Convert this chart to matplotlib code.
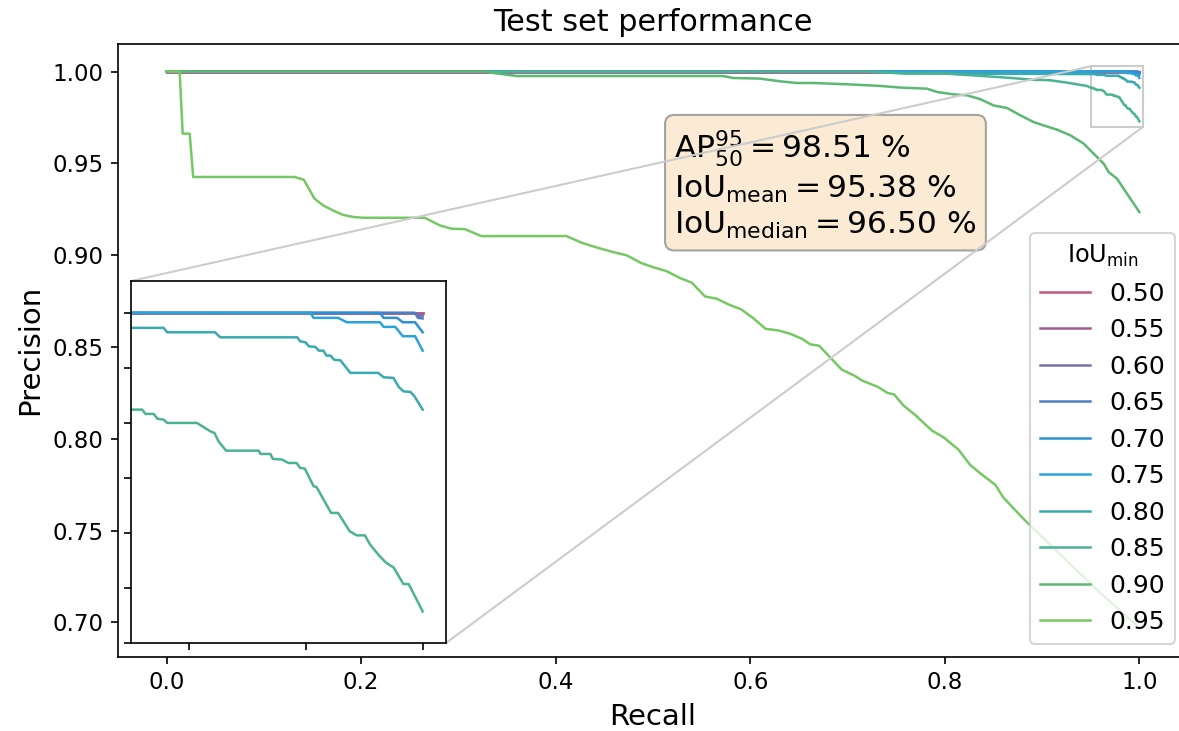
import matplotlib
matplotlib.use("Agg")
import matplotlib.pyplot as plt
from mpl_toolkits.axes_grid1.inset_locator import mark_inset

# ── Data ──────────────────────────────────────────────────────────────────────
iou_levels = ["0.50", "0.55", "0.60", "0.65", "0.70", "0.75", "0.80", "0.85", "0.90", "0.95"]
colors = ["#c2577c", "#a35b90", "#7d70a7", "#4d7ec1", "#2e90d4", "#2ba3d8",
          "#38aab0", "#4bb394", "#5cb873", "#76c865"]

rec_050 = [0.0, 1.0]
prec_050 = [1.0, 1.0]
rec_055 = [0.0, 1.0]
prec_055 = [1.0, 1.0]
rec_060 = [0.0, 0.9985, 0.9992, 1.0]
prec_060 = [1.0, 1.0, 0.99975, 0.99975]
rec_065 = [0.0, 0.9987, 0.9992, 1.0]
prec_065 = [1.0, 1.0, 0.99955, 0.9995]
rec_070 = [0.0, 0.9927, 0.9933, 0.9956, 0.9966, 0.9987, 1.0]
prec_070 = [1.0, 1.0, 0.99955, 0.99955, 0.99915, 0.99915, 0.99824]
rec_075 = [0.0, 0.9808, 0.9813, 0.9855, 0.987, 0.9927, 0.9933, 0.9953, 0.9966, 0.9987, 1.0]
prec_075 = [1.0, 1.0, 0.99955, 0.99955, 0.99915, 0.99915, 0.99873, 0.99873, 0.99788, 0.99788, 0.99657]
rec_080 = [0.0, 0.72, 0.76, 0.9501, 0.9556, 0.9562, 0.9644, 0.9653, 0.9785, 0.979, 0.9799,
           0.9805, 0.9816, 0.9822, 0.983, 0.9835, 0.9842, 0.9848, 0.9859, 0.9876, 0.9924,
           0.9933, 0.995, 0.9959, 0.9967, 0.9979, 0.9986, 1.0]
prec_080 = [1.0, 1.0, 0.9990, 0.99864, 0.99864, 0.99824, 0.99824, 0.99778, 0.99778, 0.99742, 0.99733,
            0.99696, 0.99691, 0.99657, 0.99657, 0.99612, 0.99612, 0.99575, 0.99569, 0.99455, 0.99455,
            0.99415, 0.99409, 0.99327, 0.99287, 0.99282, 0.99242, 0.99121]
rec_085 = [0.0, 0.72, 0.76, 0.80, 0.8536, 0.891, 0.908, 0.9256, 0.946, 0.9501, 0.9519, 0.9525,
           0.9539, 0.9545, 0.9556, 0.9562, 0.9613, 0.9636, 0.9643, 0.965, 0.9663, 0.9719, 0.9722,
           0.9739, 0.9743, 0.9759, 0.977, 0.9784, 0.979, 0.9798, 0.9813, 0.9818, 0.9843, 0.9855,
           0.9875, 0.9887, 0.9901, 0.991, 0.9924, 0.9936, 0.9944, 0.995, 0.9967, 0.9976, 1.0]
prec_085 = [1.0, 1.0, 0.9990, 0.9989, 0.9971, 0.9956, 0.9953, 0.9940, 0.9922, 0.99121, 0.99121, 0.99082,
            0.99082, 0.99039, 0.9903, 0.9900, 0.9900, 0.98924, 0.98909, 0.98833, 0.98748, 0.98748, 0.98718,
            0.98718, 0.98673, 0.98667, 0.98636, 0.98636, 0.98591, 0.98585, 0.98424, 0.98418, 0.98182, 0.98182,
            0.98015, 0.97978, 0.97978, 0.97894, 0.97803, 0.97736, 0.97706, 0.97688, 0.97536, 0.97536, 0.97287]
rec_090 = [0.0, 0.325, 0.36, 0.572, 0.5826, 0.610, 0.6307, 0.648, 0.6646, 0.699, 0.7335, 0.754,
           0.7816, 0.792, 0.809, 0.8227, 0.8364, 0.850, 0.8638, 0.8776, 0.8913, 0.9015, 0.9153,
           0.929, 0.9427, 0.953, 0.9633, 0.9684, 0.977, 0.9873, 1.0]
prec_090 = [1.0, 1.0, 0.9976, 0.9976, 0.9965, 0.9962, 0.9947, 0.9938, 0.9938, 0.9931, 0.9922, 0.9913,
            0.9907, 0.9889, 0.9876, 0.9871, 0.9850, 0.9816, 0.9802, 0.9762, 0.9725, 0.9707, 0.9684,
            0.9653, 0.9608, 0.9553, 0.9499, 0.9453, 0.9417, 0.9335, 0.9235]
rec_095 = [0.0, 0.0134, 0.0165, 0.0237, 0.0273, 0.1317, 0.141, 0.152, 0.161, 0.171, 0.181, 0.192,
           0.202, 0.2654, 0.281, 0.293, 0.3066, 0.3235, 0.4112, 0.4266, 0.442, 0.459, 0.473, 0.488,
           0.500, 0.514, 0.528, 0.540, 0.5535, 0.5655, 0.5775, 0.591, 0.603, 0.6157, 0.6289, 0.641,
           0.653, 0.662, 0.6708, 0.682, 0.694, 0.708, 0.7147, 0.7318, 0.741, 0.748, 0.7575, 0.7695,
           0.7867, 0.7987, 0.814, 0.826, 0.8364, 0.852, 0.860, 0.8776, 0.8827, 0.92, 0.96, 1.0]
prec_095 = [1.0, 1.0, 0.9662, 0.9662, 0.9426, 0.9426, 0.9411, 0.9308, 0.9271, 0.9244, 0.9220, 0.9208,
            0.9204, 0.9204, 0.9162, 0.9144, 0.9142, 0.9104, 0.9104, 0.9068, 0.9042, 0.9017, 0.8999, 0.8957,
            0.8935, 0.8913, 0.8875, 0.8850, 0.8775, 0.8763, 0.8732, 0.8704, 0.8657, 0.8599, 0.8590, 0.8572,
            0.8545, 0.8514, 0.8507, 0.8444, 0.8377, 0.8341, 0.8318, 0.8281, 0.8250, 0.8241, 0.8181, 0.8130,
            0.8045, 0.8008, 0.7941, 0.7858, 0.7812, 0.7749, 0.7681, 0.7582, 0.7554, 0.7363, 0.7160, 0.6970]

recalls = [rec_050, rec_055, rec_060, rec_065, rec_070, rec_075, rec_080, rec_085, rec_090, rec_095]
precisions = [prec_050, prec_055, prec_060, prec_065, prec_070, prec_075, prec_080, prec_085, prec_090, prec_095]

ap_50_95 = 98.51
iou_mean = 95.38
iou_median = 96.50

# ── Plot ───────────────────────────────────────────────────────────────────────
W, H = 1179, 731
fig = plt.figure(figsize=(W / 150, H / 150), dpi=150)
ax = fig.add_axes([118 / W, 1 - 656.7 / H, 1070 / W, 613 / H])

for r, p, c, lab in zip(recalls, precisions, colors, iou_levels):
    ax.plot(r, p, color=c, lw=1.2, label=lab)

ax.set_xlim(-0.05, 1.05)
ax.set_ylim(0.6813, 1.0152)
ax.set_xticks([0.0, 0.2, 0.4, 0.6, 0.8, 1.0])
ax.set_yticks([0.70, 0.75, 0.80, 0.85, 0.90, 0.95, 1.00])
ax.set_yticklabels([f"{v:.2f}" for v in [0.70, 0.75, 0.80, 0.85, 0.90, 0.95, 1.00]])
ax.tick_params(labelsize=11)
ax.set_xlabel("Recall", fontsize=14)
ax.set_ylabel("Precision", fontsize=14)
ax.set_title("Test set performance", fontsize=14.5)

txt = (f"$\\mathrm{{AP}}_{{50}}^{{95}} = {ap_50_95:.2f}$ %\n"
       f"$\\mathrm{{IoU}}_{{\\mathrm{{mean}}}} = {iou_mean:.2f}$ %\n"
       f"$\\mathrm{{IoU}}_{{\\mathrm{{median}}}} = {iou_median:.2f}$ %")
ax.text(0.52, 0.862, txt, transform=ax.transAxes, fontsize=15, va="top", ha="left",
        bbox=dict(boxstyle="round", facecolor="#fbe3c2", edgecolor="#808080", alpha=0.7))

leg = ax.legend(loc="lower right", fontsize=12, title="IoU$_\\mathrm{min}$",
                title_fontsize=11.5, labelspacing=0.5)

# zoomed inset
axins = fig.add_axes([131 / W, 1 - 643 / H, 315 / W, 362 / H])
for r, p, c in zip(recalls, precisions, colors):
    axins.plot(r, p, color=c, lw=1.2)
axins.set_xlim(0.95, 1.004)
axins.set_ylim(0.970, 1.0029)
axins.set_xticks([0.96, 0.98, 1.00])
axins.set_yticks([0.970, 0.975, 0.980, 0.985, 0.990, 0.995, 1.000])
axins.set_xticklabels([])
axins.set_yticklabels([])
mark_inset(ax, axins, loc1=2, loc2=4, fc="none", ec="0.8", lw=1.0)

fig.savefig("out.png", dpi=150)
